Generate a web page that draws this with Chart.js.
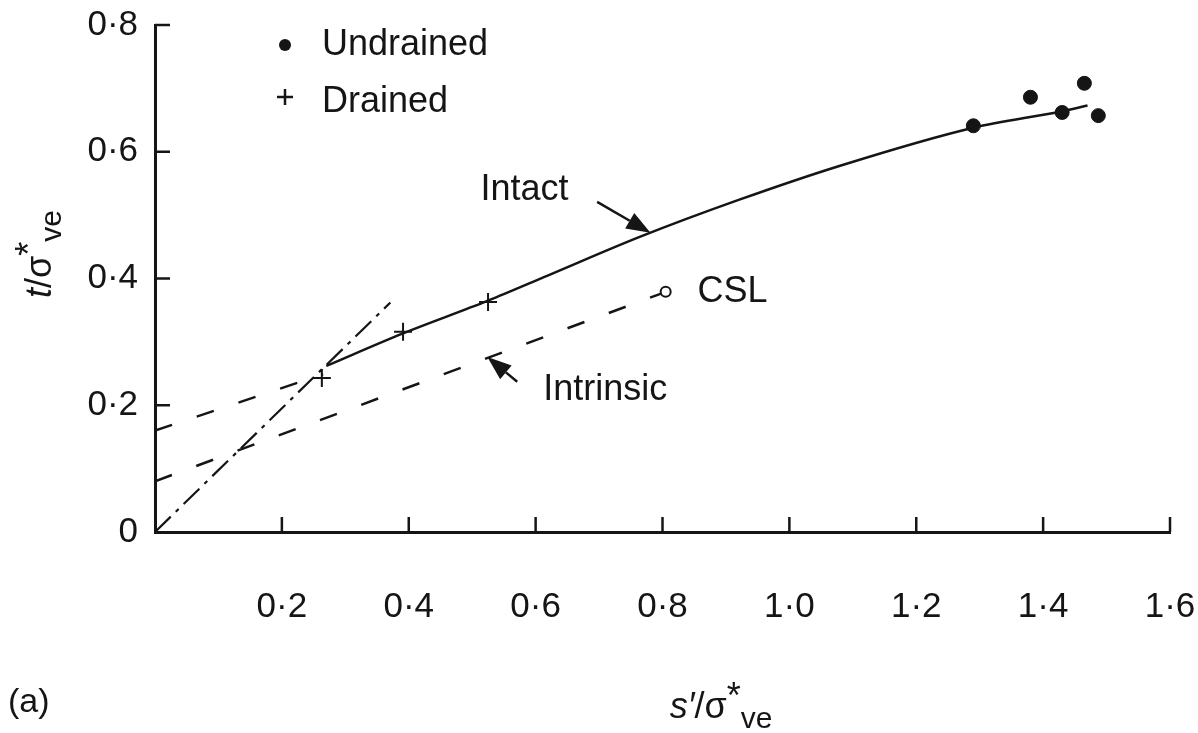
<!DOCTYPE html>
<html>
<head>
<meta charset="utf-8">
<script src="https://cdn.jsdelivr.net/npm/chart.js@4.4.1/dist/chart.umd.min.js"></script>
<style>
html, body { margin: 0; padding: 0; background: #fff; }
#wrap { width: 1198px; height: 733px; }
</style>
</head>
<body>
<div id="wrap"><canvas id="c" width="1198" height="733"></canvas></div>
<script>
// --- données (s'/σ*ve , t/σ*ve) ---
const xTicks = [0, 0.2, 0.4, 0.6, 0.8, 1.0, 1.2, 1.4, 1.6];
const xTickLabels = ['', '0·2', '0·4', '0·6', '0·8', '1·0', '1·2', '1·4', '1·6'];
const yTicks = [0, 0.2, 0.4, 0.6, 0.8];
const yTickLabels = ['0', '0·2', '0·4', '0·6', '0·8'];

const intactS = [0.27, 0.39, 0.525, 0.62, 0.765, 0.92, 1.08, 1.29, 1.43, 1.47];
const intactT = [0.262, 0.313, 0.365, 0.405, 0.466, 0.524, 0.578, 0.638, 0.664, 0.673];

const originLineS = [0, 0.371];
const originLineT = [0, 0.362];

const upperDashS = [0, 0.265];
const upperDashT = [0.16, 0.249];

const intrinsicS = [0, 0.8];
const intrinsicT = [0.08, 0.377];

const cslS = [0.805];
const cslT = [0.379];

const undrainedS = [1.29, 1.38, 1.43, 1.465, 1.487];
const undrainedT = [0.641, 0.686, 0.662, 0.708, 0.657];

const drainedS = [0.263, 0.391, 0.525];
const drainedT = [0.243, 0.316, 0.363];

// annotations (en coordonnées des données)
const notes = [
    { text: 'Intact', s: 0.513, t: 0.54 },
    { text: 'CSL', s: 0.855, t: 0.378 },
    { text: 'Intrinsic', s: 0.612, t: 0.224 }
];
const arrows = [
    { from: [0.697, 0.521], to: [0.781, 0.472] },
    { from: [0.571, 0.237], to: [0.524, 0.276] }
];

const ink = '#151515';
const FONT = '"Liberation Sans", Arial, sans-serif';

const pts = (xs, ys) => xs.map((v, i) => ({ x: v, y: ys[i] }));

function line(ctx, x1, y1, x2, y2) {
    ctx.beginPath();
    ctx.moveTo(x1, y1);
    ctx.lineTo(x2, y2);
    ctx.stroke();
}

function arrow(ctx, x1, y1, x2, y2) {
    const ang = Math.atan2(y2 - y1, x2 - x1);
    const len = 24, half = 9;
    const bx = x2 - len * Math.cos(ang), by = y2 - len * Math.sin(ang);
    line(ctx, x1, y1, bx, by);
    ctx.beginPath();
    ctx.moveTo(x2, y2);
    ctx.lineTo(bx + half * Math.sin(ang), by - half * Math.cos(ang));
    ctx.lineTo(bx - half * Math.sin(ang), by + half * Math.cos(ang));
    ctx.closePath();
    ctx.fill();
}

// titre avec exposant / indice : s'/σ*ve
function drawTitle(ctx, cx, base, parts) {
    let w = 0;
    parts.forEach(p => { ctx.font = p.font; p.w = ctx.measureText(p.text).width; w += p.w; });
    let x = cx - w / 2;
    ctx.textAlign = 'left';
    ctx.textBaseline = 'alphabetic';
    parts.forEach(p => {
        ctx.font = p.font;
        ctx.fillText(p.text, x, base + (p.dy || 0));
        x += p.w;
    });
}

const decor = {
    id: 'decor',
    afterDraw(chart) {
        const { ctx, chartArea: a, scales: { x, y } } = chart;
        ctx.save();
        ctx.strokeStyle = ink;
        ctx.fillStyle = ink;
        ctx.lineWidth = 2.5;
        ctx.setLineDash([]);

        // graduations vers l'intérieur
        xTicks.slice(1).forEach(v => {
            const px = x.getPixelForValue(v);
            line(ctx, px, a.bottom, px, a.bottom - 15);
        });
        yTicks.slice(1).forEach(v => {
            const py = y.getPixelForValue(v);
            line(ctx, a.left, py, a.left + 15, py);
        });

        // flèches
        arrows.forEach(ar => {
            arrow(ctx,
                x.getPixelForValue(ar.from[0]), y.getPixelForValue(ar.from[1]),
                x.getPixelForValue(ar.to[0]), y.getPixelForValue(ar.to[1]));
        });

        // textes
        ctx.font = '36px ' + FONT;
        ctx.textAlign = 'left';
        ctx.textBaseline = 'middle';
        notes.forEach(n => ctx.fillText(n.text, x.getPixelForValue(n.s), y.getPixelForValue(n.t)));

        // légende
        const lx = a.left + 130, ly = a.top + 20;
        ctx.beginPath();
        ctx.arc(lx, ly, 6, 0, Math.PI * 2);
        ctx.fill();
        line(ctx, lx - 8, ly + 52, lx + 8, ly + 52);
        line(ctx, lx, ly + 44, lx, ly + 60);
        ctx.fillText('Undrained', lx + 37, ly);
        ctx.fillText('Drained', lx + 37, ly + 57);

        // titres des axes
        const main = '36px ' + FONT;
        const ital = 'italic 36px ' + FONT;
        const sub = '30px ' + FONT;
        drawTitle(ctx, 721, 718, [
            { text: 's′', font: ital },
            { text: '/σ', font: main },
            { text: '*', font: main, dy: -10 },
            { text: 've', font: sub, dy: 10 }
        ]);
        ctx.save();
        ctx.translate(51, 254);
        ctx.rotate(-Math.PI / 2);
        drawTitle(ctx, 0, 0, [
            { text: 't', font: ital },
            { text: '/σ', font: main },
            { text: '*', font: main, dy: -10 },
            { text: 've', font: sub, dy: 10 }
        ]);
        ctx.restore();

        ctx.font = '34px ' + FONT;
        ctx.textAlign = 'left';
        ctx.textBaseline = 'middle';
        ctx.fillText('(a)', 8, 703);
        ctx.restore();
    }
};

new Chart(document.getElementById('c'), {
    type: 'scatter',
    data: {
        datasets: [
            {
                label: 'Undrained',
                data: pts(undrainedS, undrainedT),
                pointStyle: 'circle', pointRadius: 7,
                backgroundColor: ink, borderColor: ink, borderWidth: 1
            },
            {
                label: 'Drained',
                data: pts(drainedS, drainedT),
                pointStyle: 'cross', pointRadius: 9,
                borderColor: ink, borderWidth: 2
            },
            {
                label: 'CSL',
                data: pts(cslS, cslT),
                pointStyle: 'circle', pointRadius: 5,
                backgroundColor: '#fff', borderColor: ink, borderWidth: 2
            },
            {
                label: 'Intact',
                data: pts(intactS, intactT),
                showLine: true, pointRadius: 0,
                borderColor: ink, borderWidth: 2.5,
                cubicInterpolationMode: 'monotone'
            },
            {
                label: 'Origin',
                data: pts(originLineS, originLineT),
                showLine: true, pointRadius: 0,
                borderColor: ink, borderWidth: 2.2,
                borderDash: [22, 7, 4, 7]
            },
            {
                label: 'Upper',
                data: pts(upperDashS, upperDashT),
                showLine: true, pointRadius: 0,
                borderColor: ink, borderWidth: 2.5,
                borderDash: [18, 26]
            },
            {
                label: 'Intrinsic',
                data: pts(intrinsicS, intrinsicT),
                showLine: true, pointRadius: 0,
                borderColor: ink, borderWidth: 2.5,
                borderDash: [18, 26]
            }
        ]
    },
    options: {
        responsive: false,
        animation: false,
        layout: { padding: { top: 25, right: 28, left: 0, bottom: 0 } },
        plugins: { legend: { display: false }, tooltip: { enabled: false } },
        scales: {
            x: {
                type: 'linear', min: 0, max: 1.6,
                border: { display: true, color: ink, width: 3 },
                grid: { display: false, drawTicks: false },
                afterBuildTicks: s => { s.ticks = xTicks.map(v => ({ value: v })); },
                afterFit: s => { s.height = 201; s.paddingLeft = 0; s.paddingRight = 0; },
                ticks: {
                    autoSkip: false, maxRotation: 0, padding: 54,
                    color: ink, font: { family: FONT, size: 35 },
                    callback: v => xTickLabels[xTicks.findIndex(t => Math.abs(t - v) < 1e-6)]
                }
            },
            y: {
                type: 'linear', min: 0, max: 0.8,
                border: { display: true, color: ink, width: 3 },
                grid: { display: false, drawTicks: false },
                afterBuildTicks: s => { s.ticks = yTicks.map(v => ({ value: v })); },
                afterFit: s => { s.width = 155; s.paddingTop = 0; s.paddingBottom = 0; },
                ticks: {
                    autoSkip: false, padding: 17,
                    color: ink, font: { family: FONT, size: 35 },
                    callback: v => yTickLabels[yTicks.findIndex(t => Math.abs(t - v) < 1e-6)]
                }
            }
        }
    },
    plugins: [decor]
});
</script>
</body>
</html>
